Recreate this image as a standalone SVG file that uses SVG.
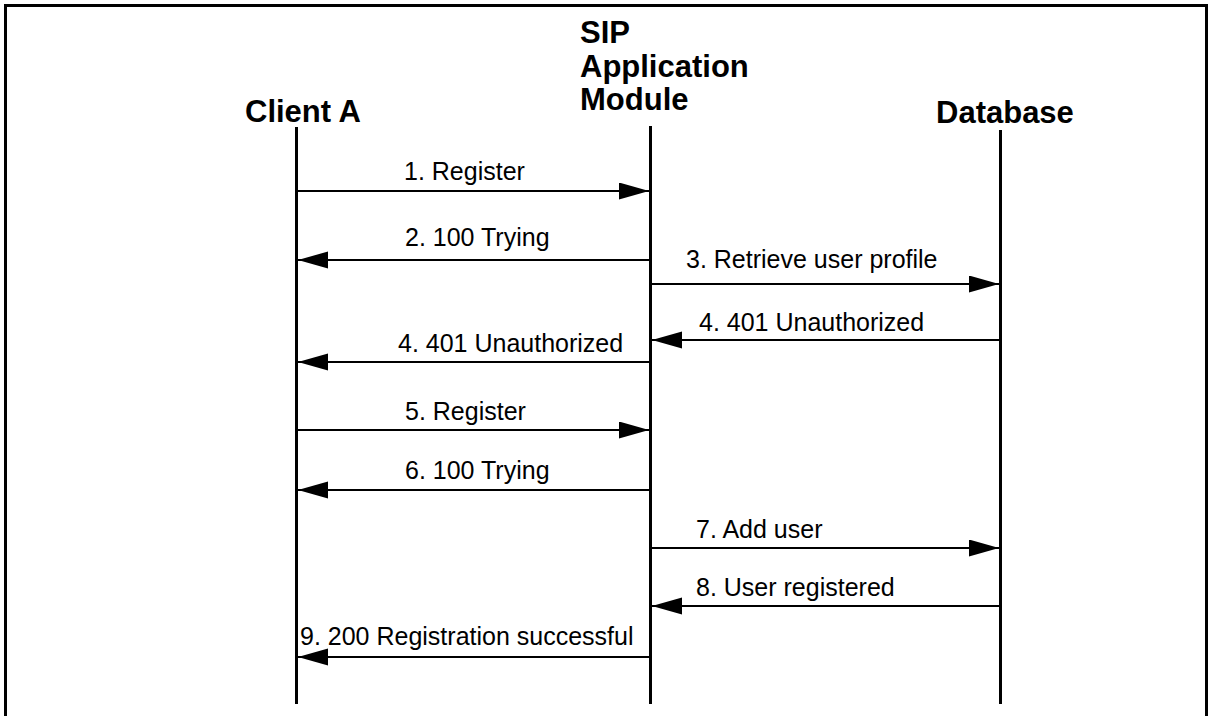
<svg xmlns="http://www.w3.org/2000/svg" width="1215" height="716" viewBox="0 0 1215 716">
<style>
.frame{fill:none;stroke:#000;stroke-width:3}
.life{stroke:#000;stroke-width:3}
.head{font-family:"Liberation Sans",Arial,sans-serif;font-weight:bold;font-size:31px;fill:#000}
.msg{stroke:#000;stroke-width:2;fill:none}
.lbl{font-family:"Liberation Sans",Arial,sans-serif;font-size:25px;fill:#000}
</style>
<defs>
<marker id="ah" markerUnits="userSpaceOnUse" markerWidth="31" markerHeight="18" refX="30" refY="8.5" orient="auto">
<path d="M0,0 L30,8.5 L0,17 Z" fill="#000"/>
</marker>
</defs>
<rect width="1215" height="716" fill="#fff"/>
<path class="frame" d="M5.5,716 V5.5 H1206.5 V716"/>
<g id="client-a">
<text class="head" x="245" y="122">Client A</text>
<line class="life" x1="296.5" y1="127" x2="296.5" y2="704"/>
</g>
<g id="sip-module">
<text class="head" x="580" y="43">SIP</text>
<text class="head" x="580" y="77">Application</text>
<text class="head" x="580" y="110">Module</text>
<line class="life" x1="650.5" y1="126" x2="650.5" y2="704"/>
</g>
<g id="database">
<text class="head" x="936" y="123">Database</text>
<line class="life" x1="1000.5" y1="130" x2="1000.5" y2="704"/>
</g>
<g id="connectors">
<line class="msg" x1="298" y1="191" x2="649" y2="191" marker-end="url(#ah)"/>
<text class="lbl" x="404" y="180">1. Register</text>
<line class="msg" x1="649" y1="260" x2="298" y2="260" marker-end="url(#ah)"/>
<text class="lbl" x="405" y="246">2. 100 Trying</text>
<line class="msg" x1="652" y1="284" x2="999" y2="284" marker-end="url(#ah)"/>
<text class="lbl" x="686" y="268">3. Retrieve user profile</text>
<line class="msg" x1="999" y1="340" x2="652" y2="340" marker-end="url(#ah)"/>
<text class="lbl" x="699" y="331">4. 401 Unauthorized</text>
<line class="msg" x1="649" y1="362" x2="298" y2="362" marker-end="url(#ah)"/>
<text class="lbl" x="398" y="352">4. 401 Unauthorized</text>
<line class="msg" x1="298" y1="430" x2="649" y2="430" marker-end="url(#ah)"/>
<text class="lbl" x="405" y="420">5. Register</text>
<line class="msg" x1="649" y1="490" x2="298" y2="490" marker-end="url(#ah)"/>
<text class="lbl" x="405" y="479">6. 100 Trying</text>
<line class="msg" x1="652" y1="548" x2="999" y2="548" marker-end="url(#ah)"/>
<text class="lbl" x="696" y="538">7. Add user</text>
<line class="msg" x1="999" y1="606" x2="652" y2="606" marker-end="url(#ah)"/>
<text class="lbl" x="696" y="596">8. User registered</text>
<line class="msg" x1="649" y1="657" x2="298" y2="657" marker-end="url(#ah)"/>
<text class="lbl" x="300" y="645">9. 200 Registration successful</text>
</g>
</svg>
